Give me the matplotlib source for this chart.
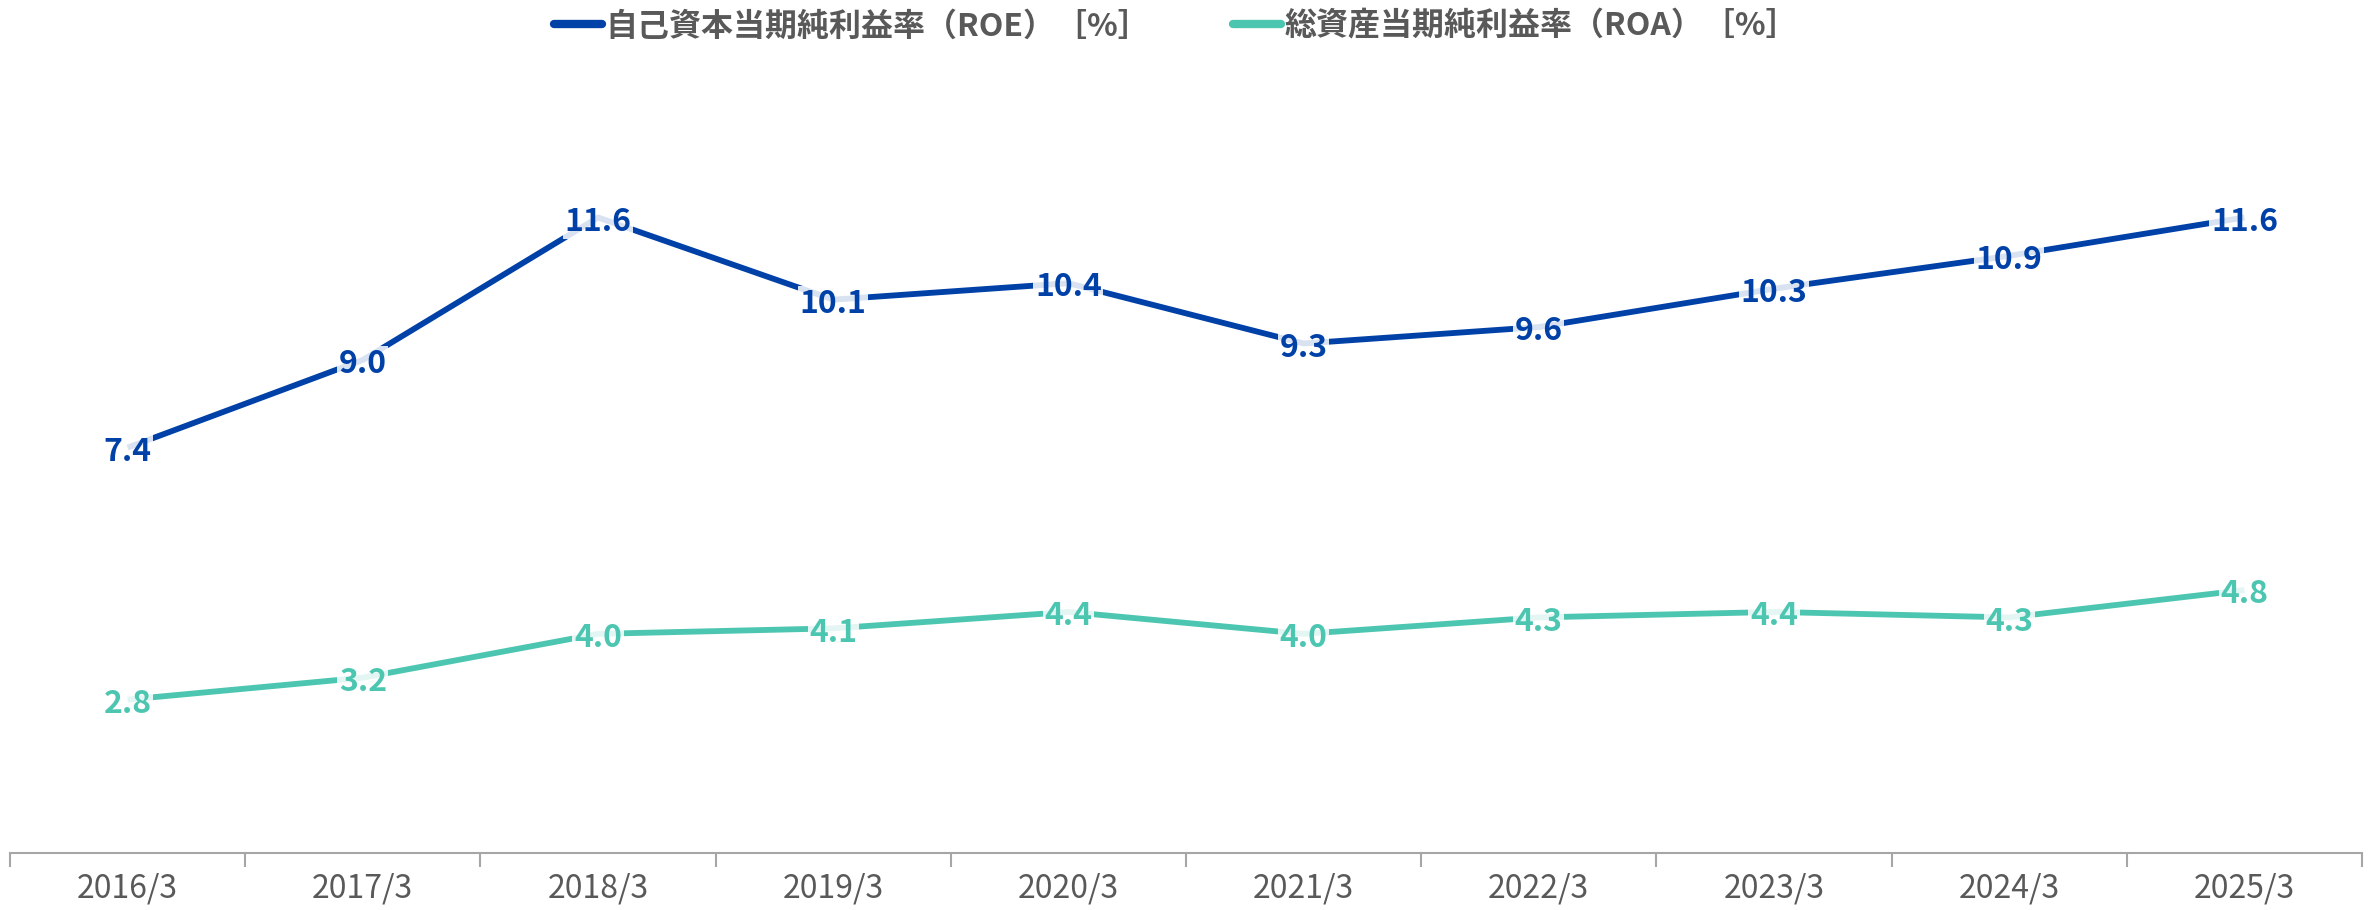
import matplotlib
matplotlib.use("Agg")
import matplotlib.pyplot as plt

plt.rcParams['font.family'] = ['Noto Sans CJK JP', 'DejaVu Sans']

# data
years = ['2016/3', '2017/3', '2018/3', '2019/3', '2020/3',
         '2021/3', '2022/3', '2023/3', '2024/3', '2025/3']
roe = [7.4, 9.0, 11.6, 10.1, 10.4, 9.3, 9.6, 10.3, 10.9, 11.6]
roa = [2.8, 3.2, 4.0, 4.1, 4.4, 4.0, 4.3, 4.4, 4.3, 4.8]
roe_name = '自己資本当期純利益率（ROE）［%］'
roa_name = '総資産当期純利益率（ROA）［%］'

blue = '#0041A8'
teal = '#4DC6B1'
gray = '#595959'

fig = plt.figure(figsize=(23.76, 9.1), dpi=100)
ax = fig.add_axes([10 / 2376, 57 / 910, 2352 / 2376, 767 / 910])

x = list(range(len(years)))
ax.plot(x, roe, color=blue, lw=4.2, label=roe_name, solid_capstyle='butt')
ax.plot(x, roa, color=teal, lw=4.2, label=roa_name, solid_capstyle='butt')

# value labels sit on the points with a light box
for vals, col in [(roe, blue), (roa, teal)]:
	for xi, v in zip(x, vals):
		ax.annotate(f'{v:.1f}', (xi, v), xytext=(0, -3), textcoords='offset points',
			ha='center', va='center', fontsize=23, fontweight='bold', color=col,
			bbox=dict(boxstyle='square,pad=0.05', fc='white', ec='none', alpha=0.85))

ax.set_xlim(-0.5, len(years) - 0.5)
ax.set_ylim(0, 14)
ax.set_yticks([])
for s in ['top', 'right', 'left']:
	ax.spines[s].set_visible(False)
ax.spines['bottom'].set_color('#A6A6A6')
ax.spines['bottom'].set_linewidth(1.5)

ax.set_xticks(x)
ax.set_xticklabels(years)
ax.tick_params(axis='x', which='major', length=0, pad=14, labelsize=23, labelcolor=gray)
ax.set_xticks([i - 0.5 for i in range(len(years) + 1)], minor=True)
ax.tick_params(axis='x', which='minor', length=10, width=1.5, color='#A6A6A6')

leg = fig.legend(loc='center', bbox_to_anchor=(0.495, 0.971), ncol=2, frameon=False,
	handlelength=1.5, handletextpad=0.1, columnspacing=2.6,
	prop={'size': 23, 'weight': 'bold'})
for t in leg.get_texts():
	t.set_color(gray)
for h in leg.legend_handles:
	h.set_linewidth(6)
	h.set_solid_capstyle('round')

fig.savefig('out.png', dpi=100)
